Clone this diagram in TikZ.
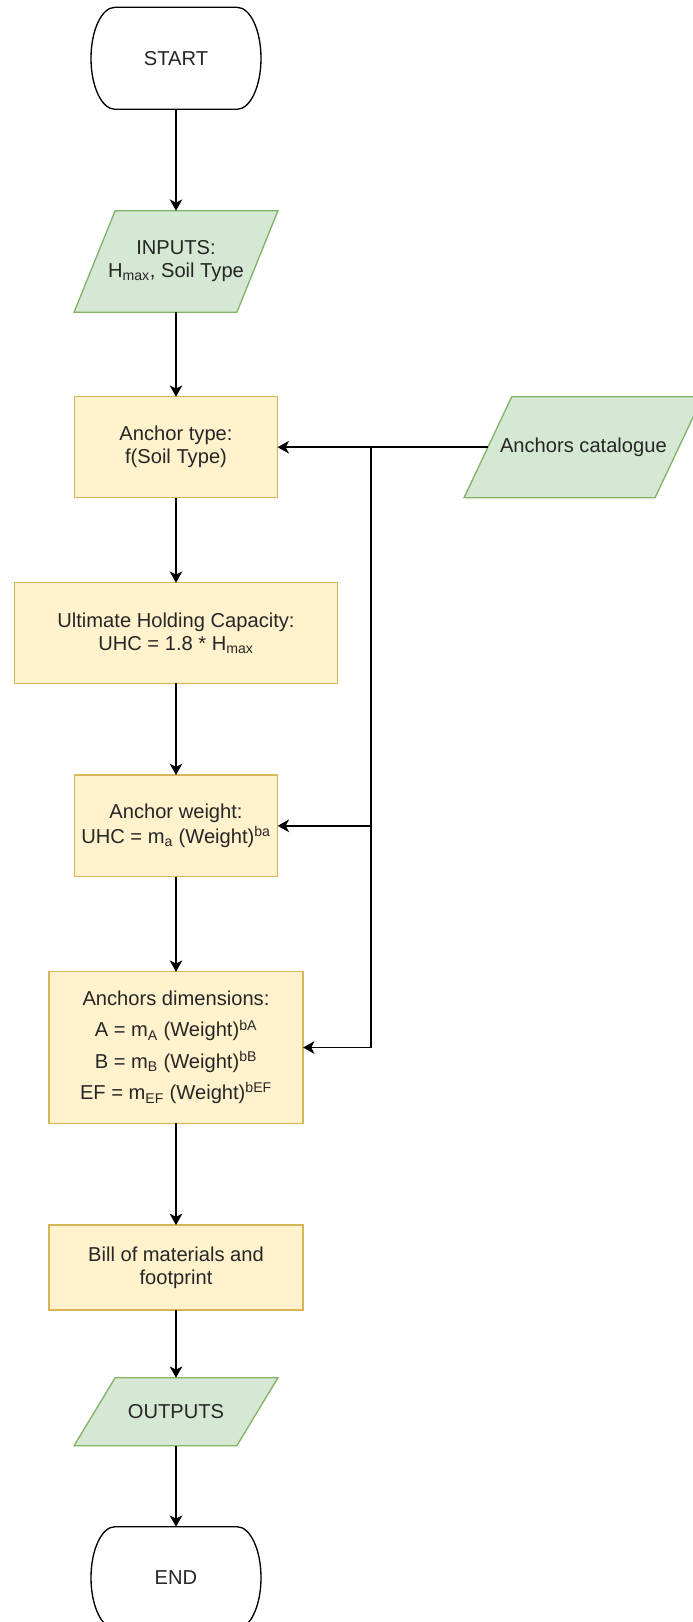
\documentclass[tikz,border=0pt]{standalone}
\usepackage{fontspec}
\setmainfont{Liberation Sans}
\usetikzlibrary{arrows.meta,backgrounds}
\definecolor{procfill}{HTML}{FFF2CC}
\definecolor{procline}{HTML}{D6B656}
\definecolor{iofill}{HTML}{D5E8D4}
\definecolor{ioline}{HTML}{82B366}
\definecolor{inkgray}{HTML}{262626}

\begin{document}
\begin{tikzpicture}[x=0.75pt,y=-0.75pt,
  every node/.style={font=\fontsize{15.1}{17.3}\selectfont, text=inkgray,
    align=center, inner sep=0pt, outer sep=0pt},
  process/.style={draw=procline, fill=procfill, line width=1pt},
  ioshape/.style={draw=ioline, fill=iofill, line width=1pt},
  termshape/.style={draw=black, fill=white, line width=1pt},
  flow/.style={draw=black, line width=1.1pt,
    -{Stealth[length=8.5pt,width=9.5pt,inset=2.4pt]}}
]
% page area
\useasboundingbox (0,0) rectangle (693,1622);
\clip (0,0) rectangle (693,1622);

% main column
\node[minimum width=127.5pt, minimum height=76.5pt] (start) at (176,58.3) {START};
\node[minimum width=122.1pt, minimum height=76.2pt] (inputs) at (176,261.5)
  {INPUTS:\\H\textsubscript{max}, Soil Type};
\node[process, minimum width=152.5pt, minimum height=75.75pt] (atype) at (176,447.2)
  {Anchor type:\\f(Soil Type)};
\node[process, minimum width=241.8pt, minimum height=75.45pt] (uhc) at (176,633)
  {Ultimate Holding Capacity:\\UHC = 1.8 * H\textsubscript{max}};
\node[process, minimum width=152.5pt, minimum height=76.3pt,
  font=\fontsize{15.1}{18.6}\selectfont] (aweight) at (176,825.8)
  {Anchor weight:\\UHC = m\textsubscript{a} (Weight)\textsuperscript{ba}};
\node[process, minimum width=190.7pt, minimum height=113.7pt,
  font=\fontsize{15.1}{23.6}\selectfont] (adim) at (176,1047.5)
  {Anchors dimensions:\\
   A = m\textsubscript{A} (Weight)\textsuperscript{bA}\\
   B = m\textsubscript{B} (Weight)\textsuperscript{bB}\\
   EF = m\textsubscript{EF} (Weight)\textsuperscript{bEF}};
\node[process, minimum width=190.7pt, minimum height=63.75pt] (bill) at (176,1267.5)
  {Bill of materials and\\footprint};
\node[minimum width=122.1pt, minimum height=51pt] (outputs) at (176,1411.7) {OUTPUTS};
\node[minimum width=127.5pt, minimum height=76.5pt] (end) at (176,1577.7) {END};

% side input
\node[minimum width=143.25pt, minimum height=75.75pt] (cat) at (583.4,447.2)
  {Anchors catalogue};

% outlines behind the texts
\begin{scope}[on background layer]
  \fill[white] (0,0) rectangle (693,1622);
  % terminators
  \foreach \t in {start,end}{
    \draw[termshape] ([xshift=18pt]\t.north west) -- ([xshift=-18pt]\t.north east)
      arc[start angle=90, end angle=-90, x radius=18pt, y radius=38.25pt]
      -- ([xshift=18pt]\t.south west)
      arc[start angle=270, end angle=90, x radius=18pt, y radius=38.25pt] -- cycle;
  }
  % data parallelograms
  \foreach \d/\s in {inputs/15.4pt, outputs/15.4pt, cat/17.9pt}{
    \draw[ioshape] ([xshift=\s]\d.north west) -- ([xshift=\s]\d.north east)
      -- ([xshift=-\s]\d.south east) -- ([xshift=-\s]\d.south west) -- cycle;
  }
\end{scope}

% connectors
\draw[flow] (start) -- (inputs);
\draw[flow] (inputs) -- (atype);
\draw[flow] (atype) -- (uhc);
\draw[flow] (uhc) -- (aweight);
\draw[flow] (aweight) -- (adim);
\draw[flow] (adim) -- (bill);
\draw[flow] (bill) -- (outputs);
\draw[flow] (outputs) -- (end);

\coordinate (split) at (371,447.2);
\draw[flow] (cat.west) -- (atype.east);
\draw[flow] (split) |- (aweight.east);
\draw[flow] (split) |- (adim.east);
\end{tikzpicture}
\end{document}
